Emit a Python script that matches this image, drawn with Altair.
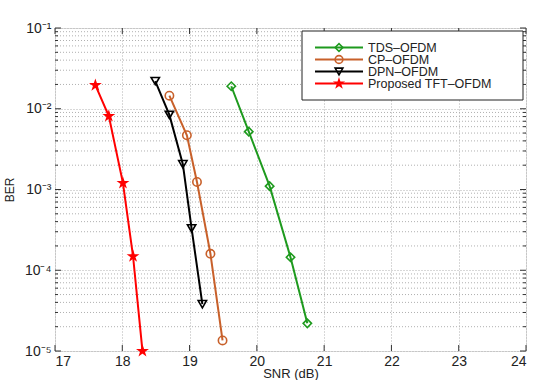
import altair as alt
import pandas as pd

# BER curves versus SNR for four OFDM schemes
tds_snr = [19.62, 19.88, 20.19, 20.50, 20.75]
tds_ber = [1.9e-2, 5.2e-3, 1.1e-3, 1.45e-4, 2.2e-5]

cp_snr = [18.70, 18.96, 19.11, 19.31, 19.49]
cp_ber = [1.45e-2, 4.7e-3, 1.24e-3, 1.6e-4, 1.35e-5]

dpn_snr = [18.49, 18.70, 18.90, 19.03, 19.19]
dpn_ber = [2.2e-2, 8.4e-3, 2.06e-3, 3.3e-4, 3.8e-5]

tft_snr = [17.60, 17.80, 18.01, 18.16, 18.30]
tft_ber = [1.96e-2, 8.1e-3, 1.2e-3, 1.49e-4, 1.0e-5]

series_names = ["TDS–OFDM", "CP–OFDM", "DPN–OFDM", "Proposed TFT–OFDM"]
series_colors = ["#1e9a1e", "#c8602a", "#000000", "#ff0000"]
series_fills = ["transparent", "transparent", "transparent", "#ff0000"]

x_ticks = [17, 18, 19, 20, 21, 22, 23, 24]
y_decades = [1e-5, 1e-4, 1e-3, 1e-2, 1e-1]
y_minor = [m * d for d in [1e-5, 1e-4, 1e-3, 1e-2] for m in range(2, 10)]

STAR = "M0,-1L0.2245,-0.309L0.951,-0.309L0.3633,0.118L0.5878,0.809L0,0.382L-0.5878,0.809L-0.3633,0.118L-0.951,-0.309L-0.2245,-0.309Z"
shape_range = ["diamond", "circle", "triangle-down", STAR]

rows = []
for name, xs, ys in zip(series_names,
                        [tds_snr, cp_snr, dpn_snr, tft_snr],
                        [tds_ber, cp_ber, dpn_ber, tft_ber]):
    for x, y in zip(xs, ys):
        rows.append({"series": name, "snr": x, "ber": y})
df = pd.DataFrame(rows)

W, H = 471, 323
FONT = "Liberation Sans"
GRID = "#b0b0b0"

x_scale = alt.Scale(domain=[17, 24], nice=False)
y_scale = alt.Scale(type="log", domain=[1e-5, 1e-1], nice=False)
color_scale = alt.Scale(domain=series_names, range=series_colors)
shape_scale = alt.Scale(domain=series_names, range=shape_range)
fill_scale = alt.Scale(domain=series_names, range=series_fills)

label_expr = ("datum.value > 0.05 ? '10⁻¹' : datum.value > 0.005 ? '10⁻²' : "
              "datum.value > 0.0005 ? '10⁻³' : datum.value > 0.00005 ? '10⁻⁴' : '10⁻⁵'")

x_enc = alt.X("snr:Q", scale=x_scale, title="SNR (dB)",
              axis=alt.Axis(values=x_ticks, format="d", grid=True, gridDash=[1, 2],
                            gridColor=GRID, gridOpacity=1, ticks=False, domain=False,
                            labelFont=FONT, labelFontSize=14, labelColor="#222",
                            labelPadding=3, titleFont=FONT, titleFontSize=13,
                            titleFontWeight="normal", titleColor="#222", titlePadding=-1))
y_enc = alt.Y("ber:Q", scale=y_scale, title="BER",
              axis=alt.Axis(values=y_decades, labelExpr=label_expr, grid=True,
                            gridDash=[1, 2], gridColor=GRID, gridOpacity=1, ticks=False,
                            domain=False, labelFont=FONT, labelFontSize=14,
                            labelColor="#222", labelPadding=4, titleFont=FONT,
                            titleFontSize=12, titleFontWeight="normal", titleColor="#222",
                            titlePadding=8))

base = alt.Chart(df)

# minor horizontal grid lines of the log axis
minor_df = pd.DataFrame({"ber": y_minor})
minor_grid = alt.Chart(minor_df).mark_rule(color=GRID, strokeDash=[1, 2], strokeWidth=1).encode(
    y=alt.Y("ber:Q", scale=y_scale)
)

# inward tick marks on all four sides
major_df = pd.DataFrame({"ber": y_decades})


def y_ticks(frame, x0, x1):
    return alt.Chart(frame).mark_rule(color="#333").encode(
        y=alt.Y("ber:Q", scale=y_scale), x=alt.value(x0), x2=alt.value(x1))


xtick_df = pd.DataFrame({"snr": x_ticks})
xticks_bottom = alt.Chart(xtick_df).mark_rule(color="#333").encode(
    x=alt.X("snr:Q", scale=x_scale), y=alt.value(H), y2=alt.value(H - 6))
xticks_top = alt.Chart(xtick_df).mark_rule(color="#333").encode(
    x=alt.X("snr:Q", scale=x_scale), y=alt.value(0), y2=alt.value(6))

lines = base.mark_line(strokeWidth=2).encode(
    x=x_enc, y=y_enc,
    color=alt.Color("series:N", scale=color_scale, legend=None),
    detail="series:N",
)
points = base.mark_point(filled=False, strokeWidth=1.6, opacity=1).encode(
    x=alt.X("snr:Q", scale=x_scale),
    y=alt.Y("ber:Q", scale=y_scale),
    color=alt.Color("series:N", scale=color_scale, legend=None),
    shape=alt.Shape("series:N", scale=shape_scale, legend=None),
    fill=alt.Fill("series:N", scale=fill_scale, legend=None),
    size=alt.value(70),
)

# legend box drawn in the upper right of the plot area
leg_df = pd.DataFrame({"series": series_names})
leg_y = alt.Y("series:N", scale=alt.Scale(domain=series_names, range=[13.5, 61.5]), axis=None)
leg_box = alt.Chart(pd.DataFrame({"a": [0]})).mark_rect(
    fill="white", stroke="#222", strokeWidth=1).encode(
    x=alt.value(247), x2=alt.value(468), y=alt.value(3), y2=alt.value(72))
leg_lines = alt.Chart(leg_df).mark_rule(strokeWidth=2).encode(
    y=leg_y, x=alt.value(260), x2=alt.value(308),
    color=alt.Color("series:N", scale=color_scale, legend=None))
leg_points = alt.Chart(leg_df).mark_point(filled=False, strokeWidth=1.6, opacity=1).encode(
    y=leg_y, x=alt.value(284),
    color=alt.Color("series:N", scale=color_scale, legend=None),
    shape=alt.Shape("series:N", scale=shape_scale, legend=None),
    fill=alt.Fill("series:N", scale=fill_scale, legend=None),
    size=alt.value(60))
leg_text = alt.Chart(leg_df).mark_text(align="left", baseline="middle", font=FONT,
                                       fontSize=12.5, color="#222").encode(
    y=leg_y, x=alt.value(313), text="series:N")

main = alt.layer(minor_grid,
                 y_ticks(major_df, 0, 6), y_ticks(minor_df, 0, 3),
                 y_ticks(major_df, W, W - 6), y_ticks(minor_df, W, W - 3),
                 xticks_bottom, xticks_top, lines, points)
legend = alt.layer(leg_box, leg_lines, leg_points, leg_text)

chart = alt.layer(main, legend).resolve_scale(y="independent").properties(
    width=W, height=H,
    autosize=alt.AutoSizeParams(type="none"),
    padding={"left": 55, "top": 28, "right": 8, "bottom": 29},
).configure_view(stroke="#222", strokeWidth=1.2).configure(background="white")

chart.save("out.html", embed_options={"renderer": "svg", "actions": False})
